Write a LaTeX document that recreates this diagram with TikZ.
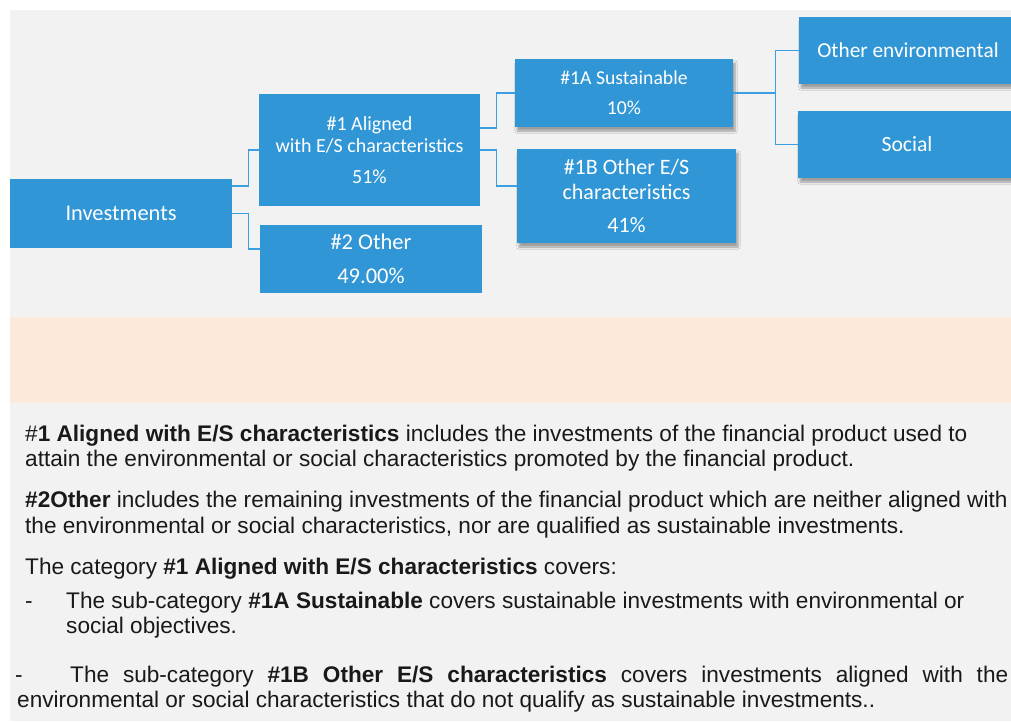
\documentclass[tikz,border=0pt]{standalone}
\usepackage{fontspec}
\setmainfont{Liberation Sans}
\newfontfamily\boxfont{Carlito}
\usetikzlibrary{shadows.blur}
\definecolor{boxblue}{RGB}{49,150,214}
\definecolor{lineblue}{RGB}{58,160,225}
\definecolor{bggray}{RGB}{242,242,242}
\definecolor{peach}{RGB}{253,233,217}
\tikzset{
  catbox/.style={fill=boxblue, draw=none, text=white, align=center, inner sep=0pt, font=\boxfont},
  shadowed/.style={blur shadow={shadow xshift=2pt, shadow yshift=-4pt, shadow blur steps=6, shadow opacity=35}},
  link/.style={draw=lineblue, line width=1.4pt},
  bodytext/.style={anchor=base west, inner sep=0pt, text=black!90, font=\fontsize{22.6}{25}\selectfont},
}
\begin{document}
\begin{tikzpicture}[x=1pt,y=-1pt]
\useasboundingbox (0,0) rectangle (1011,721);
\clip (0,0) rectangle (1011,721);
\fill[bggray] (10,10) rectangle (1011,721);
\fill[peach] (10,317) rectangle (1011,403);

\node[catbox, minimum width=222pt, minimum height=69pt, font=\boxfont\fontsize{22.4}{26}\selectfont] (inv) at (121,213.5) {Investments};
\node[catbox, minimum width=221pt, minimum height=112pt, font=\boxfont\fontsize{20}{22}\selectfont] (a1) at (369.5,150) {\#1 Aligned\\with E/S characteristics\\[9pt]51\%};
\node[catbox, minimum width=222pt, minimum height=68pt, font=\boxfont\fontsize{22.5}{34}\selectfont] (oth) at (371,259) {\#2 Other\\49.00\%};
\node[catbox, shadowed, minimum width=218pt, minimum height=68pt, font=\boxfont\fontsize{19.7}{30}\selectfont] (s1a) at (624,93) {\#1A Sustainable\\10\%};
\node[catbox, shadowed, minimum width=219pt, minimum height=94pt, font=\boxfont\fontsize{22}{25}\selectfont] (s1b) at (626.5,196) {\#1B Other E/S\\characteristics\\[8pt]41\%};
\node[catbox, shadowed, minimum width=218pt, minimum height=67pt, font=\boxfont\fontsize{21.3}{26}\selectfont] (env) at (908,50.5) {Other environmental};
\node[catbox, shadowed, minimum width=218pt, minimum height=67pt, font=\boxfont\fontsize{21.7}{26}\selectfont] (soc) at (907,144.5) {Social};

\draw[link] ([yshift=27.5pt]inv.east) -- ++(16,0) |- (a1.west);
\draw[link] (inv.east) -- ++(16,0) |- ([yshift=10pt]oth.west);
\draw[link] ([yshift=22pt]a1.east) -- ++(16,0) |- (s1a.west);
\draw[link] (a1.east) -- ++(16,0) |- ([yshift=10pt]s1b.west);
\draw[link] (s1a.east) -- ++(42,0) coordinate (fork) |- (env.west);
\draw[link] (fork) |- (soc.west);

\node[bodytext] (t1) at (25,441.5) {\#\textbf{1 Aligned with E/S characteristics} includes the investments of the financial product used to};
\node[bodytext] (t2) at (25,466) {attain the environmental or social characteristics promoted by the financial product.};
\node[bodytext] (t3) at (25,507) {\textbf{\#2Other} includes the remaining investments of the financial product which are neither aligned with};
\node[bodytext] (t4) at (25,533) {the environmental or social characteristics, nor are qualified as sustainable investments.};
\node[bodytext] (t5) at (25,574) {The category \textbf{\#1 Aligned with E/S characteristics} covers:};
\node[bodytext] (t6a) at (25,608) {-};
\node[bodytext] (t6) at (66,608) {The sub-category \textbf{\#1A Sustainable} covers sustainable investments with environmental or};
\node[bodytext] (t7) at (66,633) {social objectives.};
\node[bodytext] (t8a) at (15,682) {-};
\node[bodytext] (t8) at (70,682) {\makebox[938pt][s]{The sub-category \textbf{\#1B Other E/S characteristics} covers investments aligned with the}};
\node[bodytext] (t9) at (17,707) {environmental or social characteristics that do not qualify as sustainable investments..};
\end{tikzpicture}
\end{document}
